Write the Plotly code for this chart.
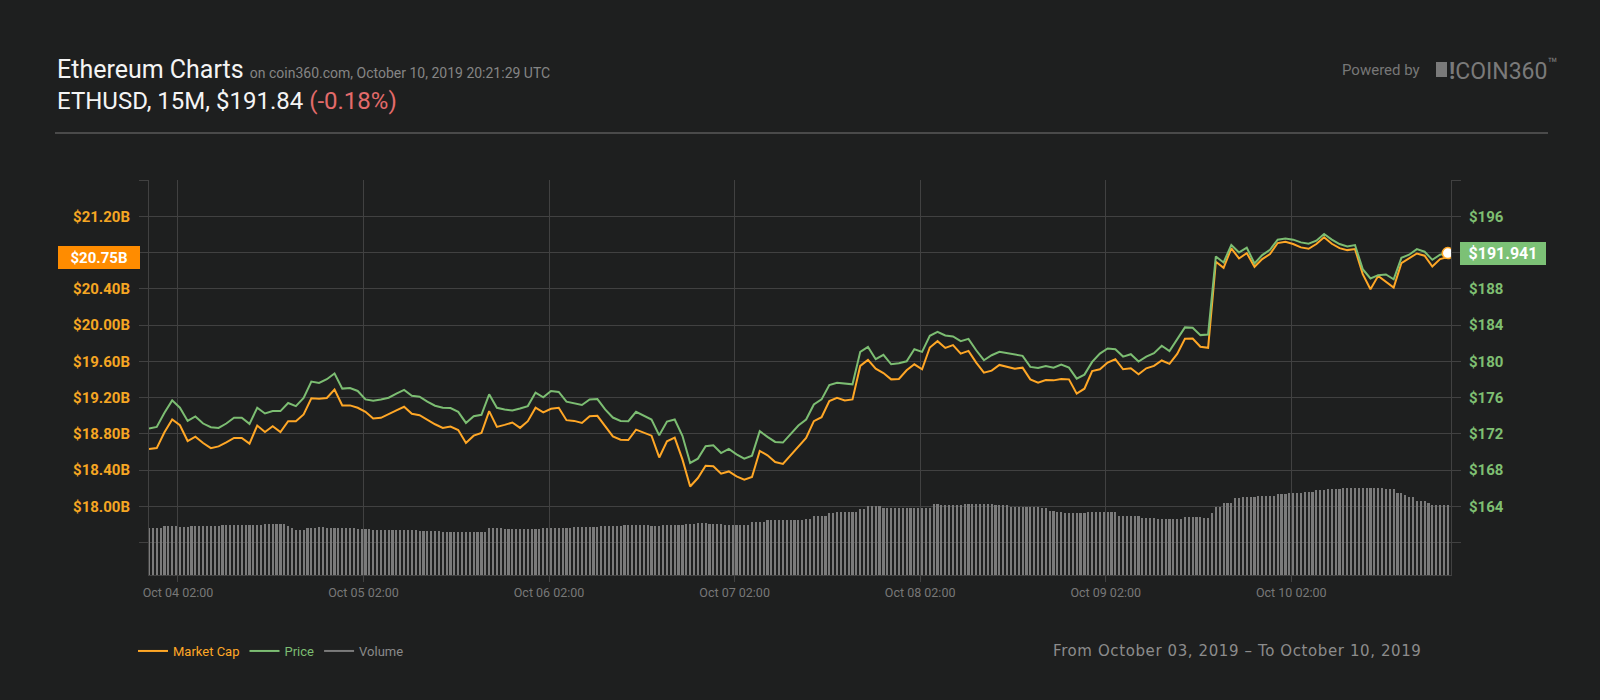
import pandas as pd
import plotly.graph_objects as go

# ETH, Oct 03 22:15 -> Oct 10 22:15
start = "2019-10-03 22:15"

# hourly price, USD (right axis)
price = [
    172.59, 172.78, 174.33, 175.70, 174.89, 173.44, 173.93, 173.15, 172.74, 172.67, 173.15, 173.78,
    173.78, 173.11, 174.89, 174.26, 174.52, 174.52, 175.41, 175.07, 175.96, 177.78, 177.63, 178.04,
    178.67, 177.00, 177.07, 176.74, 175.81, 175.67, 175.81, 176.00, 176.44, 176.85, 176.22, 176.11,
    175.56, 175.11, 174.89, 174.85, 174.44, 173.22, 173.96, 174.11, 176.37, 174.89, 174.70, 174.59,
    174.81, 175.07, 176.56, 176.04, 176.74, 176.63, 175.56, 175.41, 175.19, 175.81, 175.85, 174.70,
    173.81, 173.44, 173.41, 174.44, 174.04, 173.59, 171.85, 173.37, 173.59, 171.80, 168.80, 169.28,
    170.64, 170.75, 169.90, 170.35, 169.76, 169.28, 169.61, 172.30, 171.68, 171.12, 171.05, 171.97,
    172.93, 173.59, 175.25, 175.81, 177.39, 177.65, 177.54, 177.47, 181.05, 181.60, 180.24, 180.72,
    179.68, 179.79, 180.01, 181.34, 181.05, 182.82, 183.26, 182.86, 182.75, 182.23, 182.49, 181.23,
    180.13, 180.68, 181.05, 180.90, 180.79, 180.61, 179.39, 179.28, 179.50, 179.31, 179.65, 179.31,
    178.10, 178.54, 179.94, 180.86, 181.42, 181.34, 180.53, 180.79, 179.98, 180.53, 180.90, 181.72,
    181.13, 182.38, 183.75, 183.71, 182.90, 182.97, 191.57, 190.91, 192.83, 192.01, 192.53, 190.80,
    191.72, 192.31, 193.42, 193.56, 193.42, 193.12, 192.97, 193.31, 194.04, 193.42, 192.94, 192.68,
    192.83, 190.17, 189.14, 189.51, 189.58, 189.06, 191.42, 191.76, 192.38, 192.09, 191.20, 191.76,
    191.941,
]

# hourly market cap, $B (left axis)
market_cap = [
    18.633, 18.644, 18.819, 18.959, 18.896, 18.722, 18.770, 18.700, 18.644, 18.663, 18.707, 18.756,
    18.756, 18.693, 18.893, 18.822, 18.885, 18.822, 18.941, 18.941, 19.015, 19.193, 19.189, 19.196,
    19.289, 19.115, 19.115, 19.089, 19.044, 18.970, 18.978, 19.022, 19.059, 19.100, 19.022, 19.007,
    18.956, 18.907, 18.867, 18.881, 18.844, 18.700, 18.781, 18.811, 19.052, 18.878, 18.900, 18.926,
    18.867, 18.941, 19.089, 19.037, 19.078, 19.089, 18.952, 18.944, 18.922, 18.996, 19.000, 18.885,
    18.774, 18.737, 18.733, 18.848, 18.811, 18.781, 18.541, 18.719, 18.759, 18.520, 18.221, 18.314,
    18.450, 18.443, 18.362, 18.387, 18.332, 18.295, 18.325, 18.613, 18.565, 18.491, 18.469, 18.565,
    18.664, 18.756, 18.941, 18.985, 19.162, 19.199, 19.170, 19.181, 19.550, 19.616, 19.520, 19.472,
    19.402, 19.406, 19.502, 19.568, 19.513, 19.753, 19.823, 19.749, 19.779, 19.686, 19.716, 19.587,
    19.476, 19.498, 19.561, 19.542, 19.520, 19.531, 19.402, 19.365, 19.395, 19.391, 19.406, 19.402,
    19.244, 19.299, 19.494, 19.513, 19.587, 19.624, 19.513, 19.524, 19.458, 19.524, 19.550, 19.610,
    19.573, 19.683, 19.849, 19.853, 19.761, 19.750, 20.698, 20.632, 20.846, 20.735, 20.794, 20.643,
    20.728, 20.783, 20.905, 20.920, 20.894, 20.857, 20.842, 20.894, 20.968, 20.897, 20.849, 20.827,
    20.838, 20.562, 20.396, 20.543, 20.477, 20.414, 20.683, 20.735, 20.790, 20.765, 20.646, 20.728,
    20.750,
]

# 24h volume every 30 min, $B (bars at the bottom)
volume = [
    4.79, 4.79, 4.79, 4.79, 4.93, 4.93, 4.93, 4.93, 4.86, 4.86, 4.86, 4.93,
    4.93, 4.93, 4.93, 4.93, 4.93, 4.93, 4.93, 5.04, 5.04, 5.04, 5.04, 5.04,
    5.04, 5.10, 5.10, 5.10, 5.10, 5.10, 5.17, 5.17, 5.17, 5.17, 5.17, 5.17,
    5.00, 4.80, 4.59, 4.59, 4.59, 4.79, 4.79, 4.79, 4.86, 4.86, 4.73, 4.73,
    4.73, 4.73, 4.73, 4.73, 4.73, 4.73, 4.63, 4.63, 4.63, 4.63, 4.53, 4.53,
    4.53, 4.53, 4.53, 4.53, 4.53, 4.56, 4.56, 4.56, 4.56, 4.56, 4.46, 4.46,
    4.46, 4.46, 4.46, 4.46, 4.36, 4.36, 4.36, 4.36, 4.36, 4.36, 4.36, 4.36,
    4.36, 4.36, 4.36, 4.36, 4.73, 4.73, 4.73, 4.73, 4.63, 4.63, 4.63, 4.63,
    4.63, 4.63, 4.63, 4.63, 4.63, 4.63, 4.73, 4.73, 4.79, 4.79, 4.79, 4.79,
    4.79, 4.79, 4.89, 4.89, 4.89, 4.89, 4.89, 4.89, 4.89, 4.93, 4.93, 4.93,
    4.93, 4.93, 4.93, 5.04, 5.04, 5.04, 5.04, 5.04, 5.04, 5.04, 4.96, 4.96,
    4.96, 5.10, 5.10, 5.10, 5.10, 5.10, 5.10, 5.17, 5.17, 5.17, 5.24, 5.24,
    5.24, 5.14, 5.14, 5.14, 5.14, 5.07, 5.07, 5.07, 5.07, 5.07, 5.07, 5.07,
    5.37, 5.37, 5.37, 5.37, 5.54, 5.54, 5.54, 5.54, 5.54, 5.54, 5.54, 5.54,
    5.54, 5.54, 5.67, 5.67, 5.98, 5.98, 5.98, 5.98, 6.25, 6.25, 6.41, 6.41,
    6.35, 6.35, 6.35, 6.35, 6.66, 6.66, 6.99, 6.99, 6.99, 6.99, 6.76, 6.76,
    6.76, 6.79, 6.79, 6.79, 6.79, 6.79, 6.79, 6.79, 6.79, 6.79, 6.79, 7.16,
    7.16, 7.06, 7.06, 7.06, 7.06, 7.06, 7.06, 7.19, 7.19, 7.19, 7.19, 7.19,
    7.19, 7.19, 7.19, 7.09, 7.09, 7.09, 7.09, 6.92, 6.92, 6.92, 6.92, 6.92,
    6.92, 6.92, 6.92, 6.76, 6.76, 6.48, 6.48, 6.38, 6.38, 6.28, 6.28, 6.28,
    6.28, 6.28, 6.28, 6.35, 6.35, 6.35, 6.35, 6.35, 6.35, 6.35, 6.35, 5.98,
    5.98, 5.98, 5.98, 5.98, 5.98, 5.81, 5.81, 5.81, 5.81, 5.67, 5.67, 5.67,
    5.67, 5.67, 5.67, 5.67, 5.85, 5.85, 5.85, 5.85, 5.85, 5.74, 5.74, 6.25,
    6.92, 6.92, 7.33, 7.33, 7.33, 7.77, 7.77, 7.93, 7.93, 7.93, 7.93, 8.03,
    8.03, 8.03, 8.03, 8.03, 8.21, 8.21, 8.21, 8.28, 8.28, 8.28, 8.28, 8.41,
    8.41, 8.41, 8.61, 8.61, 8.61, 8.68, 8.68, 8.68, 8.68, 8.78, 8.78, 8.78,
    8.78, 8.78, 8.78, 8.78, 8.78, 8.78, 8.78, 8.78, 8.71, 8.71, 8.71, 8.34,
    8.34, 8.11, 7.87, 7.87, 7.50, 7.50, 7.50, 7.33, 7.06, 7.06, 7.06, 7.06,
    7.06,
]

# labelled ticks, plus unlabelled grid-only ticks
cap_ticks = [18.0, 18.4, 18.8, 19.2, 19.6, 20.0, 20.4, 21.2]
cap_labels = ["$18.00B", "$18.40B", "$18.80B", "$19.20B", "$19.60B", "$20.00B", "$20.40B", "$21.20B"]
cap_grid_only = [17.6, 20.8, 21.6]
price_ticks = [164, 168, 172, 176, 180, 184, 188, 196]
price_labels = ["$164", "$168", "$172", "$176", "$180", "$184", "$188", "$196"]
price_grid_only = [160, 192, 200]
date_ticks = ["2019-10-04 02:00", "2019-10-05 02:00", "2019-10-06 02:00", "2019-10-07 02:00",
              "2019-10-08 02:00", "2019-10-09 02:00", "2019-10-10 02:00"]

hours = pd.date_range(start, periods=len(price), freq="h")
half_hours = pd.date_range(start, periods=len(volume), freq="30min")

BG = "#1e1f1f"
GRID = "#414141"
ORANGE = "#ffa726"
GREEN = "#7cbd72"
FONT = "Roboto"

# plot area in page pixels: x 149..1451, y 180..575
def px(x):
    return (x - 149) / 1302


def py(y):
    return (575 - y) / 395


fig = go.Figure()

fig.add_trace(go.Bar(x=half_hours, y=volume, yaxis="y3", width=1000000,
                     marker=dict(color="#7b7b7b", line=dict(width=0)),
                     showlegend=False, hoverinfo="skip"))
fig.add_trace(go.Scatter(x=hours, y=price, yaxis="y2", mode="lines",
                         line=dict(color=GREEN, width=2),
                         name="<span style='color:%s'>Price</span>" % GREEN,
                         legendrank=2, hoverinfo="skip"))
fig.add_trace(go.Scatter(x=hours, y=market_cap, yaxis="y", mode="lines",
                         line=dict(color=ORANGE, width=2),
                         name="<span style='color:%s'>Market Cap</span>" % ORANGE,
                         legendrank=1, hoverinfo="skip"))
# legend entry for the volume bars (drawn as a dash like the others)
fig.add_trace(go.Scatter(x=[None], y=[None], mode="lines",
                         line=dict(color="#7b7b7b", width=2),
                         name="<span style='color:#8a8a8a'>Volume</span>",
                         legendrank=3))
# last point marker
fig.add_trace(go.Scatter(x=[hours[-1]], y=[price[-1]], yaxis="y2", mode="markers",
                         marker=dict(color="white", size=11, line=dict(color=ORANGE, width=1.5)),
                         showlegend=False, hoverinfo="skip"))

axis_common = dict(zeroline=False, showline=True, linecolor=GRID, linewidth=1,
                   ticks="outside", tickcolor=GRID, ticklen=9)

fig.update_layout(
    width=1600, height=700,
    margin=dict(l=149, r=149, t=180, b=125),
    paper_bgcolor=BG, plot_bgcolor=BG,
    font=dict(family=FONT),
    bargap=0,
    xaxis=dict(type="date", range=["2019-10-03 22:15", "2019-10-10 22:40"],
               tickvals=date_ticks, tickformat="%b %d %H:%M",
               showgrid=True, gridcolor=GRID, zeroline=False,
               showline=True, linecolor=GRID, ticks="outside", tickcolor=GRID, ticklen=6,
               tickfont=dict(size=12.5, color="#787878")),
    yaxis=dict(range=[17.245, 21.6], tickvals=cap_ticks, ticktext=cap_labels,
               showgrid=True, gridcolor=GRID, gridwidth=1,
               minor=dict(tickvals=cap_grid_only, showgrid=True, gridcolor=GRID,
                          ticks="outside", ticklen=9, tickcolor=GRID),
               tickfont=dict(size=15, color="#f5a623", weight="bold"),
               ticklabelstandoff=6, **axis_common),
    # right axis spans exactly 10x the left one so both share the same grid
    yaxis2=dict(range=[156.45, 200], overlaying="y", side="right", showgrid=False,
                tickvals=price_ticks, ticktext=price_labels,
                minor=dict(tickvals=price_grid_only, showgrid=False,
                           ticks="outside", ticklen=9, tickcolor=GRID),
                tickfont=dict(size=15, color="#7fbf72", weight="bold"),
                ticklabelstandoff=5, **axis_common),
    yaxis3=dict(range=[0, 40], overlaying="y", visible=False),
    legend=dict(orientation="h", x=px(133), y=py(651), xanchor="left", yanchor="middle",
                bgcolor="rgba(0,0,0,0)", font=dict(size=13, family=FONT)),
    showlegend=True,
)

ann = [
    dict(x=px(55), y=py(69), xanchor="left", yanchor="middle",
         text="Ethereum Charts <span style='font-size:14px;color:#858585'>"
              "on coin360.com, October 10, 2019 20:21:29 UTC</span>",
         font=dict(size=25, color="#f4f4f4")),
    dict(x=px(55), y=py(101), xanchor="left", yanchor="middle",
         text="ETHUSD, 15M, $191.84 <span style='color:#e36b6b'>(-0.18%)</span>",
         font=dict(size=24, color="#f4f4f4")),
    dict(x=px(1340), y=py(70), xanchor="left", yanchor="middle",
         text="Powered by", font=dict(size=15, color="#777777")),
    dict(x=px(1447), y=py(69), xanchor="left", yanchor="middle",
         text="<b>!</b>COIN360<sup>™</sup>",
         font=dict(size=23, color="#7a7a7a")),
    dict(x=px(1051), y=py(651), xanchor="left", yanchor="middle",
         text="<span style='letter-spacing:0.6px'>From October 03, 2019 – To October 10, 2019</span>",
         font=dict(size=15, color="#8c8c8c", family="DejaVu Sans")),
]
for a in ann:
    fig.add_annotation(xref="paper", yref="paper", showarrow=False, **a)

# current value boxes on both axes
fig.add_annotation(xref="paper", yref="y", x=px(140), y=market_cap[-1],
                   xanchor="right", yanchor="middle", showarrow=False,
                   text="$%.2fB" % market_cap[-1],
                   font=dict(size=15, color="white", weight="bold"),
                   bgcolor="#ff8c00", bordercolor="#ff8c00", borderwidth=1, borderpad=2,
                   width=76, height=17, align="center")
fig.add_annotation(xref="paper", yref="y2", x=px(1460), y=price[-1],
                   xanchor="left", yanchor="middle", showarrow=False,
                   text="$%.3f" % price[-1],
                   font=dict(size=16, color="white", weight="bold"),
                   bgcolor="#7cc176", bordercolor="#7cc176", borderwidth=1, borderpad=2,
                   width=80, height=17, align="center")

# header separator and logo block
fig.add_shape(type="line", xref="paper", yref="paper", x0=px(55), x1=px(1548),
              y0=py(133), y1=py(133), line=dict(color="#5a5a5a", width=1.5))
fig.add_shape(type="rect", xref="paper", yref="paper", x0=px(1436), x1=px(1447),
              y0=py(77), y1=py(62), fillcolor="#7a7a7a", line=dict(width=0))

fig.write_html("out.html", config={"displayModeBar": False},
               post_script="document.body.style.margin='0';document.body.style.overflow='hidden';")
